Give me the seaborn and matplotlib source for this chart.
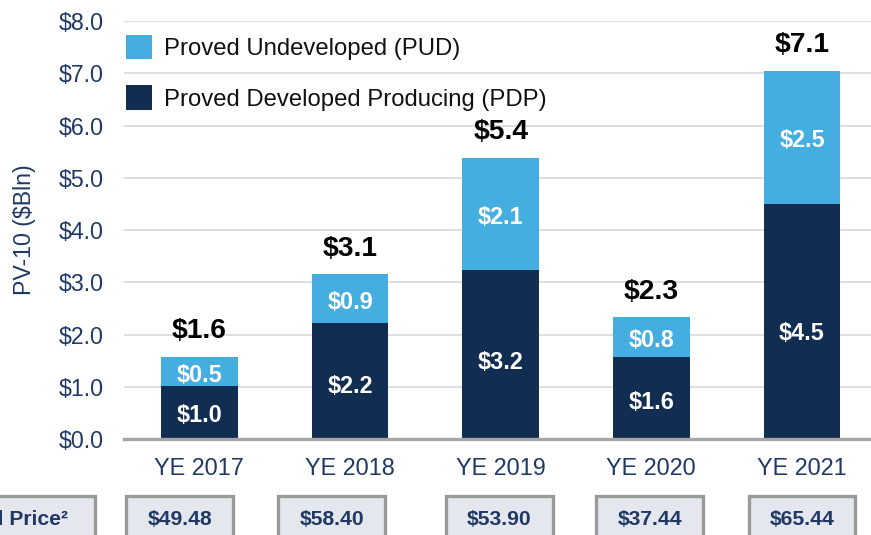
import numpy as np
import pandas as pd
import matplotlib.pyplot as plt
import matplotlib.transforms as mtransforms
from matplotlib.patches import Patch, Rectangle
import seaborn as sns

# values ($ billions)
years = ["YE 2017", "YE 2018", "YE 2019", "YE 2020", "YE 2021"]
pdp = [1.02, 2.22, 3.24, 1.57, 4.50]
pud = [0.55, 0.93, 2.14, 0.76, 2.55]
pdp_labels = ["$1.0", "$2.2", "$3.2", "$1.6", "$4.5"]
pud_labels = ["$0.5", "$0.9", "$2.1", "$0.8", "$2.5"]
total_labels = ["$1.6", "$3.1", "$5.4", "$2.3", "$7.1"]
price_title = "SEC Oil Price²"
prices = ["$49.48", "$58.40", "$53.90", "$37.44", "$65.44"]

PUD_COLOR = "#45AEE1"
PDP_COLOR = "#112D52"
NAVY = "#1F3864"

df = pd.DataFrame({"year": years, "pdp": pdp, "pud": pud})
df["total"] = df["pdp"] + df["pud"]

sns.set_theme(style="white")
plt.rcParams["font.family"] = ["Liberation Sans", "DejaVu Sans"]

fig = plt.figure(figsize=(8.71, 5.35), dpi=100)
ax = fig.add_axes([0.1424, 0.1794, 0.8576, 0.7813])

# stacked bars: full height in light blue, PDP on top in navy
sns.barplot(data=df, x="year", y="total", color=PUD_COLOR, saturation=1,
            width=0.51, linewidth=0, ax=ax)
sns.barplot(data=df, x="year", y="pdp", color=PDP_COLOR, saturation=1,
            width=0.51, linewidth=0, ax=ax)

for i, row in df.iterrows():
    ax.text(i, row["pdp"] * 0.45, pdp_labels[i], ha="center", va="center",
            color="white", fontsize=16.8, fontweight="bold")
    ax.text(i, row["pdp"] + row["pud"] / 2 - 0.07, pud_labels[i], ha="center",
            va="center", color="white", fontsize=16.8, fontweight="bold")
    ax.annotate(total_labels[i], (i, row["total"]), xytext=(0, 9),
                textcoords="offset points", ha="center", va="bottom",
                color="black", fontsize=20.3, fontweight="bold")

ax.set_xlim(-0.5, 4.458)
ax.set_ylim(0, 8)
ax.set_yticks(np.arange(0, 9, 1))
ax.set_yticklabels([f"${v:.1f}" for v in range(9)])
ax.yaxis.grid(True, color="#D9D9D9", linewidth=1.2)
ax.set_axisbelow(True)
for s in ["top", "left", "right"]:
    ax.spines[s].set_visible(False)
ax.spines["bottom"].set_color("#A6A6A6")
ax.spines["bottom"].set_linewidth(2.4)
ax.tick_params(axis="y", length=0, pad=14.5, labelsize=16.7, labelcolor=NAVY)
ax.tick_params(axis="x", length=0, pad=13, labelsize=16.8, labelcolor=NAVY)
ax.set_xlabel("")
ax.set_ylabel("PV-10 ($Bln)", fontsize=16.7, color=NAVY, labelpad=16.5)

handles = [Patch(facecolor=PUD_COLOR, edgecolor="none"),
           Patch(facecolor=PDP_COLOR, edgecolor="none")]
leg = ax.legend(handles, ["Proved Undeveloped (PUD)", "Proved Developed Producing (PDP)"],
                loc="upper left", bbox_to_anchor=(0.002, 0.967), frameon=False,
                fontsize=17.2, handlelength=1.12, handleheight=1.2,
                handletextpad=0.5, labelspacing=1.05, borderpad=0, borderaxespad=0)
for t in leg.get_texts():
    t.set_color("#111111")

# price boxes under the axis
trans = mtransforms.blended_transform_factory(ax.transData, fig.transFigure)
box_shift = [-0.13, -0.12, -0.01, -0.01, 0.0]
box_w = 0.71
for i, p in enumerate(prices):
    cx = i + box_shift[i]
    fig.add_artist(Rectangle((cx - box_w / 2, -0.03), box_w, 0.1029, transform=trans,
                             facecolor="#E4E7EE", edgecolor="#9A9A9A", linewidth=2.4))
    fig.text(cx, 0.0299, p, transform=trans, ha="center", va="center",
             color=NAVY, fontsize=15.2, fontweight="bold")

fig.add_artist(Rectangle((-2.0, -0.03), 1.31, 0.1029, transform=trans,
                         facecolor="#E4E7EE", edgecolor="#9A9A9A", linewidth=2.4))
fig.text(-0.869, 0.0299, price_title, transform=trans, ha="right", va="center",
         color=NAVY, fontsize=15.2, fontweight="bold")

fig.savefig("out.png", dpi=100)
